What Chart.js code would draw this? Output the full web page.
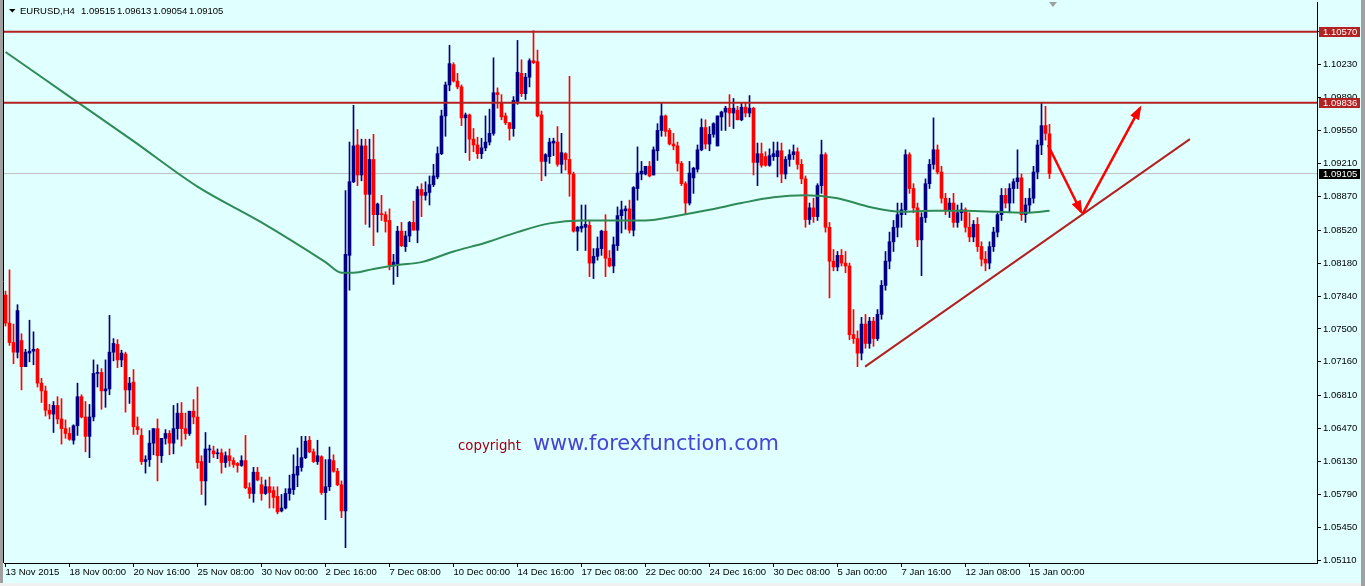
<!DOCTYPE html>
<html><head><meta charset="utf-8">
<script src="https://cdn.jsdelivr.net/npm/chart.js@4.4.0/dist/chart.umd.min.js"></script>
<style>html,body{margin:0;padding:0;background:#E0FFFF;overflow:hidden}canvas{display:block}</style>
</head><body>
<canvas id="c" width="1365" height="586"></canvas>
<script>
// ---------- DATA ----------
const tickLabels = ['13 Nov 2015','18 Nov 00:00','20 Nov 16:00','25 Nov 08:00','30 Nov 00:00','2 Dec 16:00','7 Dec 08:00','10 Dec 00:00','14 Dec 16:00','17 Dec 08:00','22 Dec 00:00','24 Dec 16:00','30 Dec 08:00','5 Jan 00:00','7 Jan 16:00','12 Jan 08:00','15 Jan 00:00'];
const tickEvery = 16;
const yTicks = [1.05110,1.05450,1.05790,1.06130,1.06470,1.06810,1.07160,1.07500,1.07840,1.08180,1.08520,1.08870,1.09210,1.09550,1.09890,1.10230,1.10570];

const open = [
1.0785,1.0756,1.0736,1.0726,1.0738,1.0711,1.0725,1.0727,1.0729,1.0694,
1.0686,1.0666,1.0662,1.0671,1.0657,1.0647,1.0642,1.0635,1.0650,1.0680,
1.0659,1.0639,1.0659,1.0704,1.0705,1.0686,1.0688,1.0726,1.0734,1.0718,
1.0724,1.0687,1.0695,1.0649,1.0640,1.0613,1.0615,1.0632,1.0647,1.0619,
1.0637,1.0642,1.0632,1.0647,1.0663,1.0647,1.0642,1.0665,1.0659,1.0613,
1.0593,1.0625,1.0624,1.0621,1.0622,1.0612,1.0619,1.0614,1.0611,1.0609,
1.0614,1.0586,1.0580,1.0602,1.0589,1.0580,1.0587,1.0583,1.0577,1.0562,
1.0565,1.0580,1.0584,1.0599,1.0607,1.0617,1.0635,1.0623,1.0613,1.0618,
1.0581,1.0587,1.0614,1.0603,1.0589,1.0562,1.0826,1.0902,1.0940,1.0909,
1.0939,1.0889,1.0925,1.0868,1.0869,1.0868,1.0862,1.0816,1.0817,1.0851,
1.0835,1.0846,1.0860,1.0852,1.0894,1.0888,1.0891,1.0899,1.0907,1.0931,
1.0970,1.1002,1.1023,1.1006,1.1000,1.0968,1.0971,1.0946,1.0940,1.0931,
1.0937,1.0943,1.0952,1.0994,1.0983,1.0970,1.0963,1.0957,1.0985,1.1014,
1.0993,1.1010,1.1027,1.1026,1.0971,1.0923,1.0928,1.0942,1.0943,1.0920,
1.0931,1.0925,1.0910,1.0851,1.0854,1.0855,1.0857,1.0818,1.0825,1.0833,
1.0851,1.0823,1.0815,1.0836,1.0867,1.0872,1.0874,1.0852,1.0895,1.0910,
1.0910,1.0918,1.0909,1.0934,1.0955,1.0970,1.0955,1.0941,1.0939,1.0921,
1.0900,1.0880,1.0906,1.0915,1.0935,1.0958,1.0941,1.0951,1.0939,1.0969,
1.0974,1.0978,1.0973,1.0976,1.0966,1.0979,1.0973,1.0978,1.0922,1.0931,
1.0928,1.0919,1.0928,1.0928,1.0934,1.0910,1.0925,1.0930,1.0933,1.0920,
1.0905,1.0863,1.0875,1.0866,1.0898,1.0930,1.0855,1.0820,1.0814,1.0826,
1.0818,1.0815,1.0744,1.0740,1.0725,1.0755,1.0735,1.0758,1.0740,1.0765,
1.0795,1.0820,1.0840,1.0855,1.0868,1.0873,1.0930,1.0895,1.0875,1.0842,
1.0865,1.0900,1.0920,1.0935,1.0912,1.0885,1.0872,1.0880,1.0860,1.0870,
1.0873,1.0855,1.0845,1.0858,1.0835,1.0822,1.0818,1.0835,1.0850,1.0868,
1.0888,1.0880,1.0895,1.0902,1.0906,1.0868,1.0878,1.0885,1.0912,1.0940,
1.0960,1.09515];
const high = [
1.0789,1.0811,1.0755,1.0775,1.0745,1.0729,1.0759,1.0747,1.0730,1.0699,
1.0691,1.0672,1.0675,1.0680,1.0678,1.0656,1.0648,1.0651,1.0694,1.0682,
1.0675,1.0672,1.0718,1.0713,1.0709,1.0718,1.0764,1.0740,1.0739,1.0728,
1.0726,1.0700,1.0708,1.0659,1.0647,1.0619,1.0645,1.0647,1.0657,1.0637,
1.0646,1.0645,1.0671,1.0673,1.0674,1.0663,1.0665,1.0677,1.0690,1.0619,
1.0643,1.0630,1.0629,1.0626,1.0626,1.0623,1.0626,1.0617,1.0612,1.0619,
1.0640,1.0591,1.0607,1.0607,1.0597,1.0594,1.0597,1.0587,1.0587,1.0579,
1.0585,1.0599,1.0620,1.0627,1.0639,1.0639,1.0639,1.0626,1.0635,1.0619,
1.0615,1.0628,1.0620,1.0606,1.0593,1.0893,1.0943,1.0981,1.0956,1.0946,
1.0946,1.0946,1.0951,1.0880,1.0888,1.0871,1.0874,1.0827,1.0856,1.0860,
1.0851,1.0861,1.0882,1.0897,1.0900,1.0902,1.0908,1.0920,1.0938,1.0976,
1.1005,1.1043,1.1025,1.1014,1.1002,1.0973,1.0972,1.0957,1.0948,1.0947,
1.0970,1.0977,1.1030,1.0999,1.0992,1.0973,1.0963,1.0990,1.1048,1.1028,
1.1014,1.1029,1.1058,1.1038,1.0975,1.0931,1.0947,1.0947,1.0959,1.0952,
1.0932,1.1011,1.0912,1.0856,1.0878,1.0878,1.0862,1.0833,1.0845,1.0852,
1.0868,1.0831,1.0845,1.0876,1.0882,1.0877,1.0883,1.0897,1.0938,1.0923,
1.0918,1.0923,1.0938,1.0962,1.0984,1.0971,1.0957,1.0952,1.0943,1.0923,
1.0902,1.0923,1.0917,1.0940,1.0967,1.0966,1.0959,1.0963,1.0970,1.0975,
1.0980,1.0992,1.0988,1.0980,1.0983,1.0983,1.0991,1.0979,1.0942,1.0942,
1.0933,1.0936,1.0943,1.0943,1.0942,1.0928,1.0935,1.0940,1.0937,1.0925,
1.0908,1.0880,1.0885,1.0900,1.0945,1.0932,1.0860,1.0832,1.0830,1.0832,
1.0830,1.0818,1.0770,1.0748,1.0762,1.0765,1.0762,1.0762,1.0770,1.0800,
1.0830,1.0850,1.0862,1.0880,1.0880,1.0935,1.0932,1.0900,1.0880,1.0870,
1.0905,1.0925,1.0968,1.0940,1.0918,1.0890,1.0885,1.0890,1.0878,1.0880,
1.0875,1.0870,1.0862,1.0865,1.0840,1.0830,1.0840,1.0855,1.0870,1.0895,
1.0895,1.0900,1.0905,1.0935,1.0910,1.0885,1.0895,1.0918,1.0945,1.0984,
1.0980,1.09613];
const low = [
1.0753,1.0733,1.0714,1.0720,1.0687,1.0711,1.0716,1.0713,1.0690,1.0674,
1.0660,1.0657,1.0643,1.0652,1.0631,1.0637,1.0635,1.0631,1.0640,1.0658,
1.0623,1.0617,1.0655,1.0690,1.0667,1.0669,1.0682,1.0717,1.0710,1.0711,
1.0664,1.0673,1.0641,1.0641,1.0610,1.0601,1.0608,1.0620,1.0593,1.0612,
1.0631,1.0620,1.0621,1.0636,1.0629,1.0636,1.0640,1.0652,1.0606,1.0579,
1.0568,1.0612,1.0617,1.0616,1.0601,1.0607,1.0608,1.0607,1.0602,1.0608,
1.0585,1.0575,1.0571,1.0593,1.0573,1.0579,1.0565,1.0565,1.0559,1.0561,
1.0564,1.0573,1.0579,1.0587,1.0603,1.0616,1.0622,1.0612,1.0610,1.0579,
1.0553,1.0583,1.0602,1.0588,1.0555,1.0524,1.0790,1.0901,1.0898,1.0903,
1.0858,1.0855,1.0836,1.0850,1.0862,1.0850,1.0811,1.0796,1.0804,1.0835,
1.0830,1.0840,1.0852,1.0839,1.0866,1.0883,1.0878,1.0897,1.0905,1.0930,
1.0949,1.0996,1.1005,1.0998,1.0960,1.0932,1.0924,1.0933,1.0926,1.0926,
1.0934,1.0940,1.0950,1.0978,1.0966,1.0961,1.0945,1.0949,1.0982,1.0990,
1.0987,1.1000,1.1024,1.0969,1.0903,1.0908,1.0921,1.0929,1.0918,1.0911,
1.0914,1.0887,1.0850,1.0831,1.0850,1.0831,1.0804,1.0802,1.0821,1.0826,
1.0804,1.0814,1.0808,1.0831,1.0849,1.0853,1.0849,1.0846,1.0883,1.0904,
1.0909,1.0907,1.0909,1.0924,1.0949,1.0949,1.0940,1.0935,1.0913,1.0898,
1.0869,1.0878,1.0890,1.0912,1.0934,1.0936,1.0934,1.0948,1.0939,1.0955,
1.0955,1.0959,1.0957,1.0966,1.0965,1.0969,1.0969,1.0909,1.0898,1.0917,
1.0918,1.0918,1.0924,1.0907,1.0901,1.0905,1.0918,1.0925,1.0915,1.0900,
1.0855,1.0858,1.0860,1.0862,1.0890,1.0850,1.0782,1.0810,1.0810,1.0815,
1.0808,1.0739,1.0735,1.0711,1.0718,1.0730,1.0730,1.0732,1.0738,1.0760,
1.0790,1.0812,1.0830,1.0845,1.0855,1.0868,1.0890,1.0870,1.0835,1.0805,
1.0860,1.0895,1.0915,1.0910,1.0880,1.0868,1.0865,1.0855,1.0855,1.0862,
1.0850,1.0840,1.0840,1.0830,1.0815,1.0810,1.0812,1.0830,1.0845,1.0862,
1.0875,1.0870,1.0880,1.0895,1.0862,1.0860,1.0870,1.0880,1.0905,1.0930,
1.0945,1.09054];
const close = [
1.0756,1.0736,1.0726,1.0769,1.0711,1.0726,1.0727,1.0729,1.0694,1.0686,
1.0666,1.0662,1.0671,1.0657,1.0647,1.0642,1.0636,1.0650,1.0680,1.0659,
1.0639,1.0659,1.0704,1.0705,1.0686,1.0688,1.0726,1.0735,1.0718,1.0725,
1.0687,1.0694,1.0649,1.0646,1.0613,1.0615,1.0632,1.0647,1.0619,1.0637,
1.0642,1.0632,1.0647,1.0663,1.0647,1.0642,1.0665,1.0659,1.0612,1.0593,
1.0626,1.0626,1.0621,1.0622,1.0612,1.0619,1.0614,1.0610,1.0609,1.0614,
1.0586,1.0580,1.0602,1.0594,1.0580,1.0587,1.0581,1.0576,1.0561,1.0565,
1.0580,1.0585,1.0600,1.0608,1.0617,1.0634,1.0623,1.0613,1.0619,1.0581,
1.0587,1.0615,1.0603,1.0589,1.0562,1.0827,1.0902,1.0939,1.0909,1.0939,
1.0889,1.0925,1.0868,1.0879,1.0868,1.0861,1.0816,1.0819,1.0851,1.0836,
1.0846,1.0860,1.0852,1.0894,1.0888,1.0891,1.0899,1.0908,1.0931,1.0970,
1.1002,1.1024,1.1006,1.1000,1.0968,1.0971,1.0946,1.0940,1.0931,1.0937,
1.0943,1.0952,1.0994,1.0992,1.0969,1.0963,1.0957,1.0986,1.1015,1.0993,
1.1010,1.1027,1.1025,1.0970,1.0923,1.0930,1.0943,1.0944,1.0920,1.0932,
1.0925,1.0910,1.0851,1.0855,1.0856,1.0858,1.0818,1.0825,1.0833,1.0851,
1.0823,1.0815,1.0837,1.0867,1.0873,1.0874,1.0852,1.0896,1.0911,1.0913,
1.0918,1.0908,1.0935,1.0955,1.0970,1.0954,1.0941,1.0939,1.0921,1.0900,
1.0880,1.0911,1.0916,1.0935,1.0958,1.0941,1.0951,1.0962,1.0970,1.0974,
1.0978,1.0973,1.0978,1.0966,1.0979,1.0973,1.0978,1.0922,1.0931,1.0919,
1.0919,1.0929,1.0931,1.0934,1.0910,1.0925,1.0930,1.0933,1.0920,1.0905,
1.0863,1.0875,1.0866,1.0898,1.0930,1.0855,1.0820,1.0814,1.0826,1.0818,
1.0815,1.0744,1.0740,1.0725,1.0755,1.0735,1.0758,1.0740,1.0765,1.0795,
1.0820,1.0840,1.0855,1.0868,1.0873,1.0930,1.0895,1.0875,1.0842,1.0865,
1.0900,1.0920,1.0935,1.0912,1.0885,1.0872,1.0880,1.0860,1.0870,1.0873,
1.0855,1.0845,1.0858,1.0835,1.0822,1.0818,1.0835,1.0850,1.0868,1.0888,
1.0880,1.0895,1.0902,1.0906,1.0868,1.0878,1.0885,1.0912,1.0940,1.0960,
1.0952,1.09105];

// moving average (read at sample candles)
const maIndex = [0,16,32,48,64,80,84,87,92,98,104,112,120,128,136,144,152,160,168,176,184,192,200,208,216,224,232,240,248,256,261];
const maValue = [1.1036,1.0990,1.0944,1.0897,1.0860,1.0819,1.0808,1.0808,1.0812,1.0816,1.0819,1.0830,1.0839,1.0850,1.0859,1.0862,1.0862,1.0862,1.0867,1.0873,1.0880,1.0886,1.0888,1.0885,1.0876,1.0871,1.0872,1.0872,1.0871,1.0870,1.0872];

const levels = [1.10570, 1.09836];
const lastPrice = 1.09105;
const trendIndex = [214.9, 296.1];
const trendValue = [1.0711, 1.0946];
const arrow1Index = [260.6, 268.9];
const arrow1Value = [1.0940, 1.0871];
const arrow2Index = [269.3, 283.6];
const arrow2Value = [1.0869, 1.0978];
const symbol = 'EURUSD,H4';
const headerValues = ['1.09515','1.09613','1.09054','1.09105'];

// ---------- CHART ----------
const FONT = "'Liberation Sans', Arial, sans-serif";
const BULL = '#000080', BEAR = '#FF0000';
const idx = open.map((_, i) => i);
const colors = idx.map(i => close[i] >= open[i] ? BULL : BEAR);
const X_MIN = -0.375, X_MAX = 327.875;

function arrowHead(ctx, pts, color) {
  const a = pts[pts.length - 2], b = pts[pts.length - 1];
  const ang = Math.atan2(b.y - a.y, b.x - a.x);
  const L = 11, W = 5;
  ctx.save();
  ctx.fillStyle = color;
  ctx.beginPath();
  ctx.moveTo(b.x + Math.cos(ang) * 3, b.y + Math.sin(ang) * 3);
  ctx.lineTo(b.x - Math.cos(ang) * L + Math.sin(ang) * W, b.y - Math.sin(ang) * L - Math.cos(ang) * W);
  ctx.lineTo(b.x - Math.cos(ang) * L - Math.sin(ang) * W, b.y - Math.sin(ang) * L + Math.cos(ang) * W);
  ctx.closePath();
  ctx.fill();
  ctx.restore();
}

const deco = {
  id: 'deco',
  beforeDraw(chart) {
    const ctx = chart.ctx;
    ctx.save();
    ctx.fillStyle = '#E0FFFF';
    ctx.fillRect(0, 0, chart.width, chart.height);
    ctx.fillStyle = '#A0A0A0';
    ctx.fillRect(chart.width - 4, 0, 4, chart.height);
    ctx.fillStyle = '#F0F0F0';
    ctx.fillRect(0, chart.height - 3, chart.width - 4, 3);
    ctx.fillStyle = '#A0A0A0';
    ctx.fillRect(0, 0, 3, chart.height - 3);
    ctx.restore();
  },
  afterDatasetsDraw(chart) {
    const ctx = chart.ctx;
    chart.data.datasets.forEach((ds, i) => {
      if (ds.arrow) {
        const pts = chart.getDatasetMeta(i).data;
        arrowHead(ctx, pts, ds.borderColor);
      }
    });
  },
  afterDraw(chart) {
    const ctx = chart.ctx, a = chart.chartArea, ys = chart.scales.y;
    ctx.save();
    ctx.strokeStyle = '#000';
    ctx.lineWidth = 1;
    ctx.beginPath();
    ctx.moveTo(a.left - 0.5, 0); ctx.lineTo(a.left - 0.5, a.bottom);
    ctx.stroke();
    // header
    ctx.fillStyle = '#000';
    ctx.beginPath(); ctx.moveTo(9, 9); ctx.lineTo(15.5, 9); ctx.lineTo(12.25, 12.5); ctx.closePath(); ctx.fill();
    ctx.font = '9.5px ' + FONT;
    ctx.textBaseline = 'alphabetic';
    ctx.textAlign = 'left';
    ctx.fillText(symbol, 20, 14);
    let hx = 81;
    headerValues.forEach(v => { ctx.fillText(v, hx, 14); hx += 36; });
    // chart shift marker
    ctx.fillStyle = '#A0A0A0';
    ctx.beginPath(); ctx.moveTo(1049, 2); ctx.lineTo(1057, 2); ctx.lineTo(1053, 7); ctx.closePath(); ctx.fill();
    // price tags
    ctx.font = '9.5px ' + FONT;
    ctx.textBaseline = 'middle';
    const tag = (v, bg) => {
      const y = ys.getPixelForValue(v);
      ctx.fillStyle = bg;
      ctx.fillRect(1319, Math.round(y) - 5, 41, 10);
      ctx.fillStyle = '#FFFFFF';
      ctx.fillText(v.toFixed(5), 1323, y + 0.5);
    };
    tag(levels[0], '#B22222');
    tag(levels[1], '#B22222');
    tag(lastPrice, '#000000');
    // copyright
    const fit = (txt, w, fam, weight) => {
      ctx.font = weight + ' 20px ' + fam;
      const s = 20 * w / ctx.measureText(txt).width;
      ctx.font = weight + ' ' + s.toFixed(2) + 'px ' + fam;
    };
    ctx.textBaseline = 'middle';
    fit('copyright', 63, "'DejaVu Sans', sans-serif", 'normal');
    ctx.fillStyle = '#A00010';
    ctx.fillText('copyright', 458, 447);
    fit('www.forexfunction.com', 246, "'DejaVu Sans', sans-serif", 'normal');
    ctx.fillStyle = '#4646D2';
    ctx.fillText('www.forexfunction.com', 533, 445);
    ctx.restore();
  }
};

const lineDs = (xs, vs, color, width, order, extra) => Object.assign({
  type: 'line',
  data: xs.map((x, k) => ({x: x, y: vs[k]})),
  borderColor: color, borderWidth: width, pointRadius: 0, pointHoverRadius: 0,
  fill: false, order: order
}, extra || {});

new Chart(document.getElementById('c'), {
  type: 'bar',
  data: {
    datasets: [
      lineDs([X_MIN, X_MAX], [lastPrice, lastPrice], '#C0C0C0', 1, 20),
      { type: 'bar', data: idx.map(i => ({x: i, y: [low[i], high[i]]})), backgroundColor: colors, barThickness: 1, grouped: false, borderWidth: 0, minBarLength: 1, order: 12 },
      { type: 'bar', data: idx.map(i => ({x: i, y: [open[i], close[i]]})), backgroundColor: colors, barThickness: 3, grouped: false, borderWidth: 0, minBarLength: 1, order: 11 },
      lineDs(maIndex, maValue, '#2E8B57', 2, 6, {cubicInterpolationMode: 'monotone'}),
      lineDs([X_MIN, X_MAX], [levels[0], levels[0]], '#B22222', 2, 5),
      lineDs([X_MIN, X_MAX], [levels[1], levels[1]], '#B22222', 2, 5),
      lineDs(trendIndex, trendValue, '#B22222', 2, 4),
      lineDs(arrow1Index, arrow1Value, '#FF0000', 2.5, 3, {arrow: true}),
      lineDs(arrow2Index, arrow2Value, '#FF0000', 2.5, 3, {arrow: true})
    ]
  },
  options: {
    responsive: false,
    animation: false,
    devicePixelRatio: 1,
    layout: { padding: { left: 4, top: 2, right: 4, bottom: 3 } },
    plugins: { legend: { display: false }, tooltip: { enabled: false } },
    events: [],
    scales: {
      x: {
        type: 'linear', min: X_MIN, max: X_MAX, offset: false,
        afterBuildTicks: s => { s.ticks = tickLabels.map((_, k) => ({value: k * tickEvery})); },
        afterFit: s => { s.height = 20; s.paddingLeft = 0; s.paddingRight = 0; },
        ticks: { autoSkip: false, maxRotation: 0, minRotation: 0, align: 'start', padding: 0, color: '#000',
          font: { family: FONT, size: 9.5 },
          callback: v => tickLabels[Math.round(v / tickEvery)] },
        grid: { display: true, drawOnChartArea: false, drawTicks: true, tickLength: 4, color: '#000', offset: false },
        border: { display: true, color: '#000', width: 1 }
      },
      y: {
        type: 'linear', position: 'right', min: 1.050821, max: 1.108768,
        afterBuildTicks: s => { s.ticks = yTicks.map(v => ({value: v})); },
        afterFit: s => { s.width = 44; s.paddingTop = 0; s.paddingBottom = 0; },
        ticks: { padding: 2, color: '#000', font: { family: FONT, size: 9.5 }, callback: v => v.toFixed(5) },
        grid: { display: true, drawOnChartArea: false, drawTicks: true, tickLength: 4, color: '#000' },
        border: { display: true, color: '#000', width: 1 }
      }
    }
  },
  plugins: [deco]
});
</script>
</body></html>
